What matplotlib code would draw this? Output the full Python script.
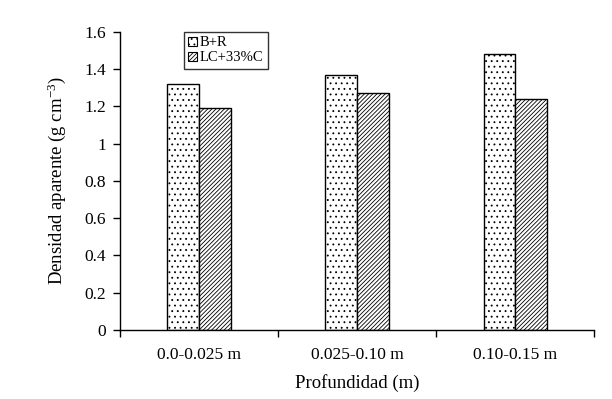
import matplotlib
matplotlib.use("Agg")
import matplotlib.pyplot as plt
import numpy as np

categories = ["0.0-0.025 m", "0.025-0.10 m", "0.10-0.15 m"]
br = [1.32, 1.37, 1.48]
lc = [1.19, 1.27, 1.24]
series_names = ["B+R", "LC+33%C"]
yticks = [0, 0.2, 0.4, 0.6, 0.8, 1, 1.2, 1.4, 1.6]
ytick_labels = ["0", "0.2", "0.4", "0.6", "0.8", "1", "1.2", "1.4", "1.6"]

plt.rcParams['font.family'] = ['Liberation Serif', 'DejaVu Serif']
plt.rcParams['mathtext.fontset'] = 'custom'
plt.rcParams['mathtext.rm'] = 'Liberation Serif'
plt.rcParams['mathtext.it'] = 'Liberation Serif:italic'
plt.rcParams['hatch.linewidth'] = 0.6

fig = plt.figure(figsize=(6.12, 3.99), dpi=100)
ax = fig.add_axes([0.196, 0.173, 0.775, 0.747])

x = np.arange(len(categories)) + 0.5
w = 0.2
b1 = ax.bar(x - w/2, br, w, color='white', edgecolor='black', hatch='...', linewidth=1, label=series_names[0])
b2 = ax.bar(x + w/2, lc, w, color='white', edgecolor='black', hatch='////////', linewidth=1, label=series_names[1])

ax.set_xlim(0, 3)
ax.set_ylim(0, 1.6)
ax.set_yticks(yticks)
ax.set_yticklabels(ytick_labels, fontsize=12.5)
ax.set_xticks([0, 1, 2, 3])
ax.set_xticklabels([])
ax.set_xticks(x, minor=True)
ax.set_xticklabels(categories, minor=True, fontsize=12.5)
ax.tick_params(axis='x', which='minor', length=0, pad=12)
ax.tick_params(axis='both', which='major', direction='out', length=5, width=1, colors='black')
ax.tick_params(axis='y', pad=5)
for s in ['top', 'right']:
    ax.spines[s].set_visible(False)
ax.spines['left'].set_linewidth(1)
ax.spines['bottom'].set_linewidth(1)

ax.set_ylabel(r"Densidad aparente (g cm$^{\mathregular{-3}}$)", fontsize=13.5, labelpad=12)
ax.set_xlabel("Profundidad (m)", fontsize=13.5, labelpad=8)

leg = ax.legend(loc='upper left', bbox_to_anchor=(0.135, 1.0), fontsize=10.5, frameon=True,
                fancybox=False, edgecolor='black', handlelength=0.6, handleheight=0.6,
                handletextpad=0.2, borderpad=0.3, labelspacing=0.15, borderaxespad=0)
leg.get_frame().set_linewidth(1)
for h in leg.legend_handles:
    h.set_linewidth(0.8)

fig.savefig("out.png", dpi=100)
